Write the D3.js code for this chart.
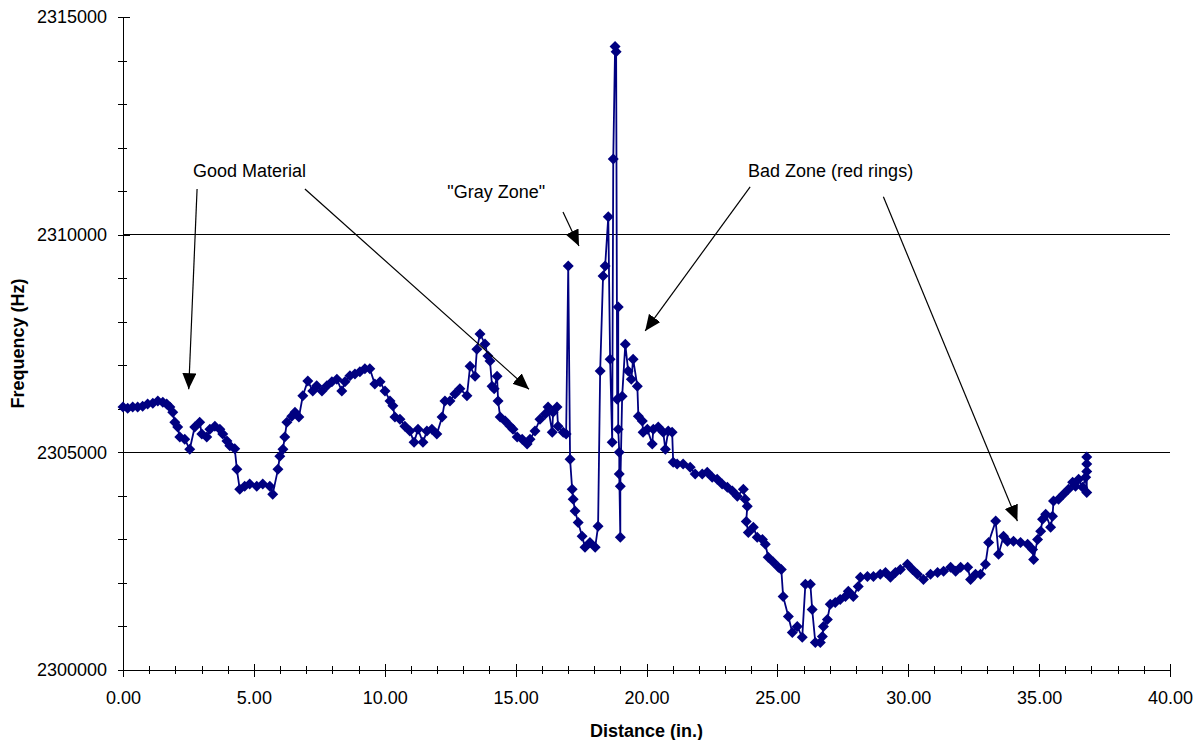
<!DOCTYPE html>
<html>
<head>
<meta charset="utf-8">
<script src="https://cdn.jsdelivr.net/npm/d3@7"></script>
<style>
body { margin: 0; background: #fff; }
svg text { font-family: "Liberation Sans", Arial, sans-serif; fill: #000; }
</style>
</head>
<body>
<svg id="chart" width="1196" height="740"></svg>
<script>
const distance = [
    0.00, 0.18, 0.37, 0.56, 0.75, 0.94, 1.14, 1.33, 1.52, 1.67, 1.79, 1.90, 1.98, 2.09, 2.17, 2.36, 2.55, 2.74, 2.93, 3.01,
    3.20, 3.32, 3.51, 3.70, 3.81, 3.97, 4.08, 4.27, 4.35, 4.46, 4.65, 4.84, 5.11, 5.34, 5.61, 5.72, 5.92, 5.99, 6.11, 6.18,
    6.26, 6.45, 6.57, 6.72, 6.87, 7.06, 7.25, 7.40, 7.60, 7.79, 7.98, 8.17, 8.36, 8.48, 8.67, 8.86, 9.05, 9.24, 9.43, 9.62,
    9.82, 10.01, 10.20, 10.31, 10.39, 10.58, 10.77, 10.96, 11.12, 11.27, 11.46, 11.61, 11.80, 11.99, 12.19, 12.30, 12.49, 12.68, 12.87, 13.14,
    13.26, 13.45, 13.52, 13.64, 13.83, 13.94, 14.02, 14.10, 14.18, 14.29, 14.33, 14.41, 14.60, 14.79, 14.90, 15.06, 15.25, 15.44, 15.55, 15.74,
    15.93, 16.13, 16.24, 16.40, 16.43, 16.58, 16.62, 16.82, 16.93, 17.01, 17.08, 17.16, 17.20, 17.27, 17.39, 17.54, 17.65, 17.84, 18.04, 18.15,
    18.23, 18.34, 18.42, 18.54, 18.61, 18.69, 18.73, 18.80, 18.84, 18.88, 18.92, 18.92, 18.96, 18.96, 19.00, 19.00, 19.07, 19.19, 19.30, 19.42,
    19.49, 19.65, 19.69, 19.84, 19.87, 20.03, 20.22, 20.26, 20.45, 20.64, 20.72, 20.83, 20.98, 21.02, 21.17, 21.40, 21.67, 21.86, 22.13, 22.32,
    22.51, 22.70, 22.89, 23.09, 23.28, 23.47, 23.70, 23.77, 23.85, 23.81, 23.89, 24.08, 24.23, 24.43, 24.54, 24.65, 24.84, 25.04, 25.15, 25.22,
    25.42, 25.57, 25.76, 25.95, 26.07, 26.26, 26.33, 26.45, 26.64, 26.72, 26.76, 26.91, 27.02, 27.21, 27.40, 27.60, 27.71, 27.90, 28.09, 28.17,
    28.44, 28.67, 28.93, 29.13, 29.32, 29.51, 29.70, 29.97, 30.16, 30.35, 30.58, 30.85, 31.12, 31.35, 31.62, 31.81, 32.00, 32.27, 32.38, 32.57,
    32.76, 32.95, 33.07, 33.34, 33.45, 33.64, 33.79, 34.02, 34.29, 34.56, 34.75, 34.79, 34.94, 35.06, 35.13, 35.25, 35.44, 35.51, 35.55, 35.74,
    35.93, 36.12, 36.28, 36.39, 36.51, 36.66, 36.78, 36.82, 36.82, 36.82, 36.82
];

const frequency = [
    2306040, 2306010, 2306040, 2306040, 2306060, 2306110, 2306130, 2306180, 2306150, 2306110, 2306040, 2305920, 2305690, 2305580, 2305350, 2305300, 2305070, 2305580, 2305690, 2305420,
    2305350, 2305530, 2305600, 2305530, 2305420, 2305260, 2305150, 2305080, 2304610, 2304150, 2304220, 2304270, 2304220, 2304270, 2304220, 2304040, 2304610, 2304910, 2305070, 2305350,
    2305690, 2305830, 2305920, 2305810, 2306300, 2306640, 2306410, 2306530, 2306410, 2306530, 2306620, 2306680, 2306410, 2306620, 2306760, 2306800, 2306850, 2306920, 2306920, 2306570,
    2306620, 2306410, 2306180, 2306070, 2305810, 2305760, 2305600, 2305490, 2305230, 2305530, 2305230, 2305490, 2305530, 2305420, 2305810, 2306180, 2306180, 2306340, 2306460, 2306300,
    2306980, 2306750, 2307370, 2307720, 2307490, 2307210, 2307100, 2306520, 2306460, 2306750, 2306180, 2305810, 2305720, 2305600, 2305530, 2305350, 2305300, 2305190, 2305300, 2305490,
    2305760, 2305880, 2306040, 2305460, 2305920, 2306040, 2305600, 2305460, 2305420, 2309280, 2304840, 2304150, 2303920, 2303650, 2303390, 2303070, 2302820, 2302930, 2302820, 2303300,
    2306870, 2309050, 2309280, 2310410, 2307140, 2305230, 2311740, 2314320, 2314200, 2306220, 2308340, 2305530, 2305000, 2304500, 2303050, 2304220, 2306290, 2307480, 2306870, 2306680,
    2307140, 2306520, 2305830, 2305720, 2305460, 2305530, 2305190, 2305530, 2305580, 2305460, 2305070, 2305490, 2305460, 2304770, 2304730, 2304730, 2304660, 2304500, 2304500, 2304540,
    2304430, 2304380, 2304270, 2304200, 2304110, 2303990, 2304150, 2303920, 2303760, 2303410, 2303160, 2303280, 2303050, 2303000, 2302890, 2302590, 2302480, 2302360, 2302310, 2301690,
    2301230, 2300860, 2301000, 2300750, 2301970, 2301970, 2301390, 2300630, 2300630, 2300770, 2301000, 2301160, 2301510, 2301550, 2301620, 2301690, 2301810, 2301690, 2301920, 2302130,
    2302150, 2302150, 2302200, 2302240, 2302130, 2302240, 2302310, 2302430, 2302310, 2302200, 2302080, 2302200, 2302240, 2302270, 2302360, 2302270, 2302360, 2302360, 2302080, 2302200,
    2302200, 2302430, 2302930, 2303420, 2302660, 2303070, 2302960, 2302960, 2302930, 2302890, 2302770, 2302540, 2303000, 2303190, 2303460, 2303580, 2303280, 2303530, 2303880, 2303920,
    2304040, 2304150, 2304310, 2304220, 2304380, 2304200, 2304430, 2304080, 2304560, 2304730, 2304890
];

const xTicks = [0, 5, 10, 15, 20, 25, 30, 35, 40];
const xMinorTicks = d3.range(0, 41, 1);
const yTicks = [2300000, 2305000, 2310000, 2315000];
const yMinorTicks = d3.range(2300000, 2315001, 1000);
const gridLines = [2305000, 2310000];

// annotation labels and their arrows (data units)
const noteLabels = [
    { text: 'Good Material', d: 2.67, f: 2311470 },
    { text: '"Gray Zone"', d: 12.39, f: 2310980 },
    { text: 'Bad Zone (red rings)', d: 23.88, f: 2311470 }
];
const noteArrows = [
    { d1: 2.83, f1: 2311050, d2: 2.51, f2: 2306450 },
    { d1: 6.95, f1: 2311050, d2: 15.51, f2: 2306450 },
    { d1: 16.81, f1: 2310520, d2: 17.42, f2: 2309740 },
    { d1: 23.96, f1: 2311100, d2: 19.95, f2: 2307790 },
    { d1: 29.05, f1: 2310870, d2: 34.17, f2: 2303420 }
];

const points = distance.map((d, i) => ({ d: d, f: frequency[i] }));

const margin = { top: 17, right: 26, bottom: 70, left: 123 };
const width = 1196 - margin.left - margin.right;
const height = 740 - margin.top - margin.bottom;

const svg = d3.select('#chart')
    .append('g')
    .attr('transform', `translate(${margin.left},${margin.top})`);

const x = d3.scaleLinear().domain([0, 40]).range([0, width]);
const y = d3.scaleLinear().domain([2300000, 2315000]).range([height, 0]);

// gridlines
svg.append('g')
    .selectAll('line')
    .data(gridLines)
    .enter()
    .append('line')
    .attr('x1', 0)
    .attr('x2', width)
    .attr('y1', d => y(d))
    .attr('y2', d => y(d))
    .attr('stroke', '#000')
    .attr('stroke-width', 1)
    .attr('shape-rendering', 'crispEdges');

// minor ticks (crossing the axis)
const xMinor = svg.append('g')
    .attr('transform', `translate(0,${height})`)
    .call(d3.axisBottom(x).tickValues(xMinorTicks).tickSize(4).tickFormat(''));
xMinor.select('.domain').remove();
xMinor.selectAll('.tick line').attr('y1', -4);

const yMinor = svg.append('g')
    .call(d3.axisLeft(y).tickValues(yMinorTicks).tickSize(5).tickFormat(''));
yMinor.select('.domain').remove();
yMinor.selectAll('.tick line').attr('x1', 4);

// major axes
const xAxis = svg.append('g')
    .attr('transform', `translate(0,${height})`)
    .call(d3.axisBottom(x).tickValues(xTicks).tickSize(7).tickSizeOuter(0).tickPadding(14).tickFormat(d3.format('.2f')));
xAxis.selectAll('.tick line').attr('y1', -6);

const yAxis = svg.append('g')
    .call(d3.axisLeft(y).tickValues(yTicks).tickSize(6).tickSizeOuter(0).tickPadding(10).tickFormat(d3.format('d')));
yAxis.selectAll('.tick line').attr('x2', 7);

svg.selectAll('.domain, .tick line').attr('stroke', '#000').attr('shape-rendering', 'crispEdges');
svg.selectAll('.tick text').style('font-size', '18px');

// series line and diamond markers
const line = d3.line()
    .x(d => x(d.d))
    .y(d => y(d.f));

svg.append('path')
    .datum(points)
    .attr('fill', 'none')
    .attr('stroke', '#000080')
    .attr('stroke-width', 1.8)
    .attr('d', line);

svg.append('g')
    .selectAll('path')
    .data(points)
    .enter()
    .append('path')
    .attr('transform', d => `translate(${x(d.d)},${y(d.f)})`)
    .attr('d', 'M0,-5.5L5.5,0L0,5.5L-5.5,0Z')
    .attr('fill', '#000080');

// annotations
svg.append('defs')
    .append('marker')
    .attr('id', 'arrow')
    .attr('markerUnits', 'userSpaceOnUse')
    .attr('markerWidth', 18)
    .attr('markerHeight', 14)
    .attr('refX', 16)
    .attr('refY', 7)
    .attr('orient', 'auto')
    .append('path')
    .attr('d', 'M0,0 L16,7 L0,14 Z')
    .attr('fill', '#000');

svg.append('g')
    .selectAll('line')
    .data(noteArrows)
    .enter()
    .append('line')
    .attr('x1', d => x(d.d1))
    .attr('y1', d => y(d.f1))
    .attr('x2', d => x(d.d2))
    .attr('y2', d => y(d.f2))
    .attr('stroke', '#000')
    .attr('stroke-width', 1.2)
    .attr('marker-end', 'url(#arrow)');

svg.append('g')
    .selectAll('text')
    .data(noteLabels)
    .enter()
    .append('text')
    .attr('x', d => x(d.d))
    .attr('y', d => y(d.f))
    .attr('dy', '0.35em')
    .style('font-size', '18px')
    .text(d => d.text);

// axis titles
svg.append('text')
    .attr('x', width / 2)
    .attr('y', height + 67)
    .attr('text-anchor', 'middle')
    .style('font-size', '18px')
    .style('font-weight', 'bold')
    .text('Distance (in.)');

svg.append('text')
    .attr('transform', `translate(${-105},${height / 2}) rotate(-90)`)
    .attr('text-anchor', 'middle')
    .attr('dy', '0.35em')
    .style('font-size', '18px')
    .style('font-weight', 'bold')
    .text('Frequency (Hz)');
</script>
</body>
</html>
